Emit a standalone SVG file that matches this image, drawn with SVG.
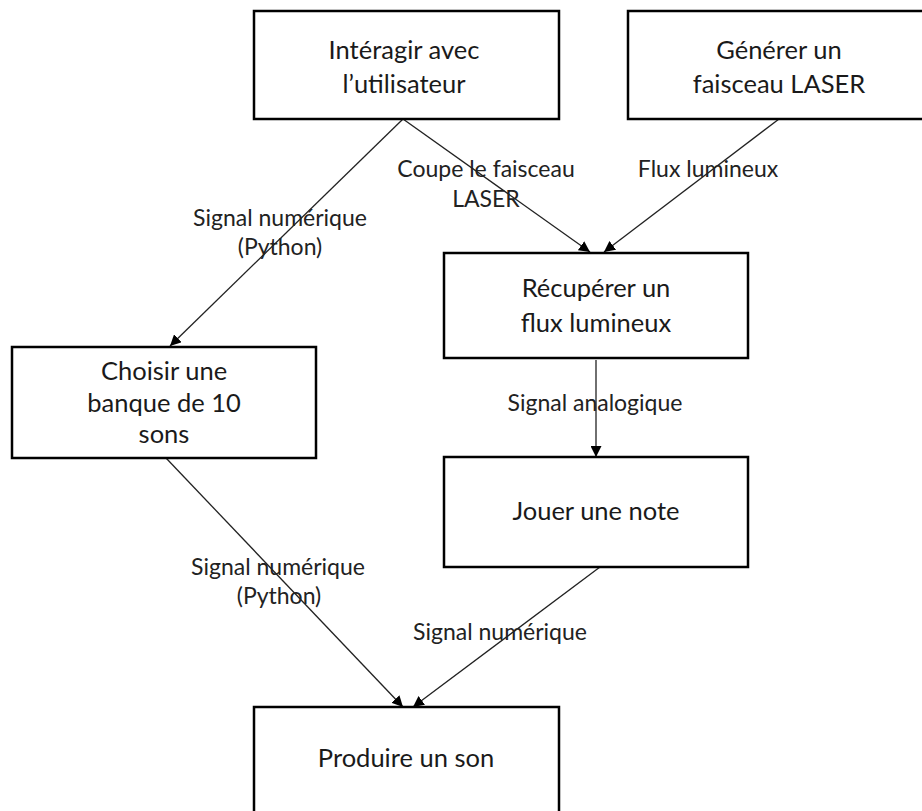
<svg xmlns="http://www.w3.org/2000/svg" width="922" height="811" viewBox="0 0 922 811">
<style>
.box{fill:#fff;stroke:#000;stroke-width:2.5}
.nt{font-family:Lato,"Open Sans",sans-serif;font-size:25.5px;fill:#1a1a1a;text-anchor:middle}
.lb{font-family:Lato,"Open Sans",sans-serif;font-size:23px;fill:#222;text-anchor:middle}
.cn{stroke:#222;stroke-width:1.3;fill:none;marker-end:url(#ah)}
</style>
<defs>
<marker id="ah" viewBox="0 0 10 10" refX="10" refY="5" markerWidth="11" markerHeight="11" markerUnits="userSpaceOnUse" orient="auto">
<path d="M0,0 L10,5 L0,10 z" fill="#000"/>
</marker>
</defs>
<rect width="922" height="811" fill="#fff"/>
<g id="connectors">
<line class="cn" x1="403" y1="119" x2="170" y2="346"/>
<line class="cn" x1="403" y1="119" x2="590" y2="252"/>
<line class="cn" x1="779" y1="119" x2="604" y2="252"/>
<line class="cn" x1="596" y1="360" x2="596" y2="457"/>
<line class="cn" x1="166" y1="458" x2="403" y2="707"/>
<line class="cn" x1="600" y1="567" x2="413" y2="707"/>
</g>
<g id="labels">
<text class="lb" x="486" y="177">Coupe le faisceau</text>
<text class="lb" x="486" y="207">LASER</text>
<text class="lb" x="708" y="177">Flux lumineux</text>
<text class="lb" x="280" y="226">Signal numérique</text>
<text class="lb" x="280" y="255">(Python)</text>
<text class="lb" x="595" y="411">Signal analogique</text>
<text class="lb" x="278" y="575">Signal numérique</text>
<text class="lb" x="279" y="604">(Python)</text>
<text class="lb" x="500" y="640">Signal numérique</text>
</g>
<g id="n1"><rect class="box" x="254" y="11" width="305" height="108"/>
<text class="nt" x="404" y="59">Intéragir avec</text><text class="nt" x="404" y="93">l’utilisateur</text></g>
<g id="n2"><rect class="box" x="628" y="11" width="302" height="108"/>
<text class="nt" x="779" y="59">Générer un</text><text class="nt" x="779" y="93">faisceau LASER</text></g>
<g id="n3"><rect class="box" x="444" y="253" width="304" height="105"/>
<text class="nt" x="596" y="297">Récupérer un</text><text class="nt" x="596" y="332">flux lumineux</text></g>
<g id="n4"><rect class="box" x="12" y="347" width="304" height="111"/>
<text class="nt" x="164" y="380">Choisir une</text><text class="nt" x="164" y="412">banque de 10</text><text class="nt" x="164" y="443">sons</text></g>
<g id="n5"><rect class="box" x="444" y="457" width="304" height="110"/>
<text class="nt" x="596" y="520">Jouer une note</text></g>
<g id="n6"><rect class="box" x="254" y="707" width="305" height="120"/>
<text class="nt" x="406" y="767">Produire un son</text></g>
</svg>
